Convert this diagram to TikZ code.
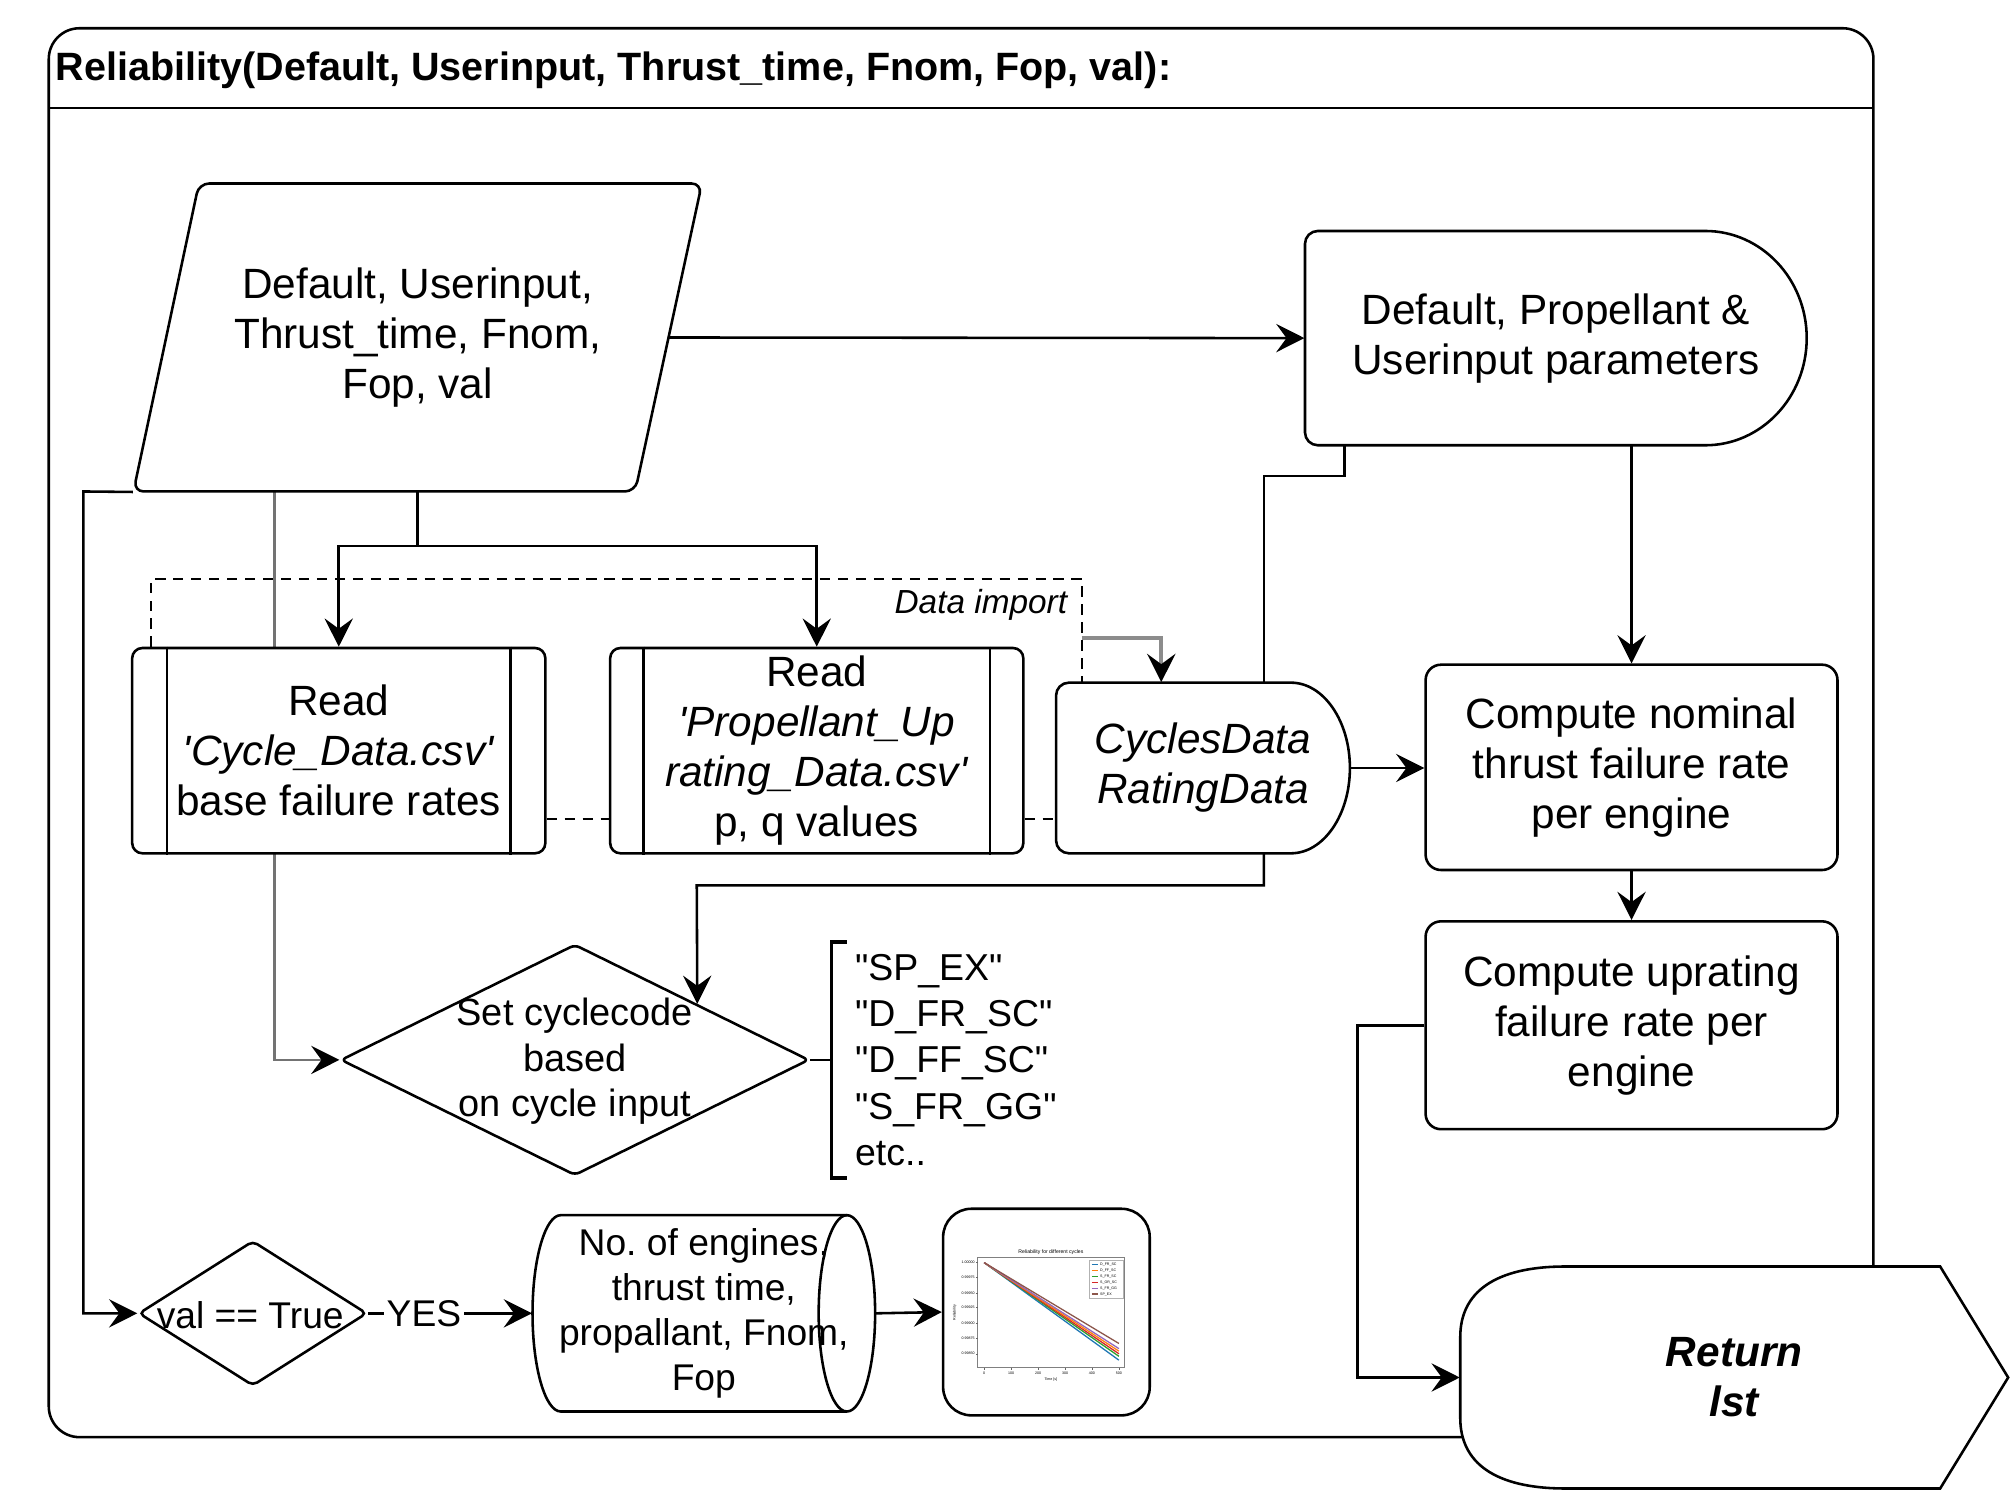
\documentclass[tikz,border=0pt]{standalone}
\usepackage{fontspec}
\setmainfont{Liberation Sans}
\usetikzlibrary{shapes.geometric,arrows.meta,calc,backgrounds}
\definecolor{c1}{HTML}{1F77B4}
\definecolor{c2}{HTML}{FF7F0E}
\definecolor{c3}{HTML}{2CA02C}
\definecolor{c4}{HTML}{D62728}
\definecolor{c5}{HTML}{9467BD}
\definecolor{c6}{HTML}{8C564B}
\tikzset{
  ln/.style={line width=1pt},
  arr/.style={line width=1pt, -{Stealth[length=11pt,width=11pt,inset=4pt,color=black]}},
  dsh/.style={line width=0.8pt, dash pattern=on 4pt off 3pt},
  big/.style={font=\fontsize{16.5}{19.5}\selectfont, align=center},
  mid/.style={font=\fontsize{14.8}{17.8}\selectfont, align=center},
  box/.style={big, draw, line width=1pt, rounded corners=6pt, fill=white, minimum width=160.5pt, inner sep=0pt},
  ppbox/.style={big, draw, line width=1pt, rounded corners=4pt, fill=white, minimum width=161pt, minimum height=80pt, inner sep=0pt},
  free/.style={inner sep=0pt, align=center},
  tiny/.style={font=\fontsize{1.4}{1.6}\selectfont, inner sep=0pt},
}
\begin{document}
\frenchspacing
\begin{tikzpicture}[x=0.5pt,y=-0.5pt]
\useasboundingbox (0,0) rectangle (1568,1168);
\begin{pgfonlayer}{background}
\fill[white] (0,0) rectangle (1568,1168);
\end{pgfonlayer}

% frame
\draw[ln, rounded corners=12pt] (38,22) rectangle (1460,1120);
\draw[ln] (38,84) -- (1460,84);
\node[anchor=west, inner sep=0pt, font=\bfseries\fontsize{15.4}{18.5}\selectfont] (title) at (43,55) {Reliability(Default, Userinput, Thrust\_time, Fnom, Fop, val):};

% input parallelogram
\draw[ln, rounded corners=4pt] (155,143) -- (547,143) -- (495,383) -- (104,383) -- cycle;
\node[big, free, minimum width=221.5pt, minimum height=120pt] (inp) at (325.5,263) {Default, Userinput,\\Thrust\_time, Fnom,\\Fop, val};

% parameters (delay shape)
\draw[ln, fill=white] (1329,180) -- (1027,180) .. controls (1021.5,180) and (1017,184.5) .. (1017,190) -- (1017,337) .. controls (1017,342.5) and (1021.5,347) .. (1027,347) -- (1329,347) .. controls (1372.6,347) and (1408,309.6) .. (1408,263.5) .. controls (1408,217.4) and (1372.6,180) .. (1329,180) -- cycle;
\node[big, free, minimum width=195.5pt, minimum height=83.5pt] (par) at (1212.5,263.5) {Default, Propellant \&\\Userinput parameters};

% CyclesData (delay shape)
\draw[ln, fill=white] (1006,532) -- (833,532) .. controls (827.5,532) and (823,536.5) .. (823,542) -- (823,655) .. controls (823,660.5) and (827.5,665) .. (833,665) -- (1006,665) .. controls (1031.4,665) and (1052,635.2) .. (1052,598.5) .. controls (1052,561.8) and (1031.4,532) .. (1006,532) -- cycle;
\node[free, font=\itshape\fontsize{16.5}{19.5}\selectfont, minimum width=114.5pt, minimum height=66.5pt] (cyc) at (937.5,598.5) {CyclesData\\RatingData};

% diamonds
\node[diamond, draw, ln, fill=white, minimum width=182.5pt, minimum height=90pt, inner sep=0pt, rounded corners=2pt] (dc) at (448,826) {};
\node[mid, free] (dct) at (448,827) {Set cyclecode\\based\\on cycle input};
\node[diamond, draw, ln, fill=white, minimum width=89pt, minimum height=56.5pt, inner sep=0pt, rounded corners=2pt] (val) at (197,1023.5) {};
\node[free, font=\fontsize{14.5}{17.4}\selectfont] (valt) at (195,1025) {val == True};

% connector passing behind the first Read block
\begin{pgfonlayer}{background}
\draw[arr, draw=black!55] ([xshift=-55.75pt]inp.south) |- (dc.west);
\end{pgfonlayer}

% read blocks
\node[ppbox] (rc) at (264,585) {Read\\\textit{\textquotesingle Cycle\_Data.csv\textquotesingle}\\base failure rates};
\draw[ln] ([xshift=14pt]rc.north west) -- ([xshift=14pt]rc.south west) ([xshift=-14pt]rc.north east) -- ([xshift=-14pt]rc.south east);
\node[ppbox] (rp) at (636.5,585) {Read\\\textit{\textquotesingle Propellant\_Up}\\\textit{rating\_Data.csv\textquotesingle}\\p, q values};
\draw[ln] ([xshift=13.5pt]rp.north west) -- ([xshift=13.5pt]rp.south west) ([xshift=-13.5pt]rp.north east) -- ([xshift=-13.5pt]rp.south east);

% compute boxes
\node[box, minimum height=80pt] (nom) at (1271.5,598) {Compute nominal\\thrust failure rate\\per engine};
\node[box, minimum height=81pt] (upr) at (1271.5,799) {Compute uprating\\failure rate per\\engine};

% codes annotation
\node[anchor=west, align=left, inner sep=0pt, font=\fontsize{14.6}{18}\selectfont] (codes) at (666,826) {\textquotedbl SP\_EX\textquotedbl\\\textquotedbl D\_FR\_SC\textquotedbl\\\textquotedbl D\_FF\_SC\textquotedbl\\\textquotedbl S\_FR\_GG\textquotedbl\\etc..};
\draw[line width=1.5pt] (660,734) -- (648,734) -- (648,918) -- (660,918);
\draw[ln] (dc.east) -- (648,826);

% cylinder
\draw[ln, fill=white] (437,947) -- (660,947) .. controls (672.1,947) and (682,981.3) .. (682,1023.5) .. controls (682,1065.7) and (672.1,1100) .. (660,1100) -- (437,1100) .. controls (424.9,1100) and (415,1065.7) .. (415,1023.5) .. controls (415,981.3) and (424.9,947) .. (437,947) -- cycle;
\draw[ln] (660,947) .. controls (647.9,947) and (638,981.3) .. (638,1023.5) .. controls (638,1065.7) and (647.9,1100) .. (660,1100);
\node[free, font=\fontsize{14.5}{17.5}\selectfont, minimum width=133.5pt, minimum height=76.5pt] (cyl) at (548.5,1023.5) {No. of engines,\\thrust time,\\propallant, Fnom,\\Fop};

% image box with mini plot
\node[draw, ln, rounded corners=11pt, minimum width=80.5pt, minimum height=80.5pt, inner sep=0pt] (img) at (815.5,1022.5) {};
\draw[black!50, line width=0.3pt] (762,980) rectangle (876,1066);
\node[inner sep=0pt, font=\fontsize{2}{2.4}\selectfont] (ptitle) at (819,976) {Reliability for different cycles};
\foreach \c/\ye in {c1/1060, c3/1057, c4/1055, c2/1053, c5/1051, c6/1047}
  \draw[\c, line width=0.5pt] (767,984) -- (872,\ye);
\draw[black!30, line width=0.2pt, fill=white] (849,982) rectangle (875,1012);
\foreach \c/\t [count=\i] in {c1/D\_FR\_SC, c2/D\_FF\_SC, c3/S\_FR\_SC, c4/S\_OR\_SC, c5/S\_FR\_GG, c6/SP\_EX} {
  \draw[\c, line width=0.6pt] (851,{981+\i*4.6}) -- (856,{981+\i*4.6});
  \node[tiny, anchor=west] (lg\i) at (857,{981+\i*4.6}) {\t};
}
\foreach \v/\yy [count=\i] in {1.00000/984, 0.99975/995.5, 0.99950/1007.5, 0.99925/1019, 0.99900/1031, 0.99875/1043, 0.99850/1055} {
  \draw[black!60, line width=0.2pt] (760.5,\yy) -- (762,\yy);
  \node[tiny, anchor=east] (yt\i) at (760,\yy) {\v};
}
\foreach \v/\xx [count=\i] in {0/767, 100/788, 200/809, 300/830, 400/851, 500/872} {
  \draw[black!60, line width=0.2pt] (\xx,1066) -- (\xx,1067.5);
  \node[tiny] (xt\i) at (\xx,1070) {\v};
}
\node[tiny] (xl) at (819,1075) {Time [s]};
\node[tiny, rotate=90] (yl) at (744,1023) {Reliability};

% return shape
\draw[ln, fill=white] (1220,987) -- (1512,987) -- (1565,1073.5) -- (1512,1160) -- (1220,1160) .. controls (1165,1160) and (1138,1140) .. (1138,1105) -- (1138,1042) .. controls (1138,1007) and (1165,987) .. (1220,987) -- cycle;
\node[free, font=\bfseries\itshape\fontsize{16.5}{19.5}\selectfont, minimum width=213.5pt, minimum height=86.5pt] (ret) at (1351.5,1073.5) {Return\\lst};

% connectors
\draw[arr] ([xshift=-13pt]inp.east) -- (par.west);
\draw[arr] (par.south -| nom.north) -- (nom.north);
\draw[ln] (par.south -| 1048,0) |- (985,371) -- (cyc.north -| 985,0);
\draw[arr] (cyc.south -| 985,0) |- (543,690) -- ($(dc.north)!0.52!(dc.east)$);
\draw[arr] (cyc.east) -- (cyc.east -| nom.west);
\draw[arr] (nom.south) -- (upr.north);
\draw[arr] (upr.west) -- (1058,799) |- (ret.west);
\draw[arr] (inp.south) -- ++(0,42) -| (rc.north);
\draw[arr] ([yshift=-21pt]inp.south) -| (rp.north);
\draw[arr] (inp.south west) -- (65,383) |- (val.west);
\draw[arr] (val.east) -- node[pos=0.34, fill=white, inner sep=1pt, font=\fontsize{14.5}{17.4}\selectfont] (yes) {YES} (cyl.west);
\draw[arr] (cyl.east) -- (img.west);

% data import group
\draw[dsh] ([xshift=8pt]rc.north west) |- (843,451) -- (cyc.north -| 843,0);
\node[anchor=east, inner sep=0pt, font=\itshape\fontsize{13}{15}\selectfont] (dimp) at (832,471) {Data import};
\draw[dsh] (rc.east |- 0,638) -- (rp.west |- 0,638);
\draw[dsh] (rp.east |- 0,638) -- (cyc.west |- 0,638);
\draw[draw=black!45, line width=1.5pt, -{Stealth[length=11pt,width=11pt,inset=4pt,color=black]}] (843,497) -| (cyc.north -| 905,0);
\end{tikzpicture}
\end{document}
